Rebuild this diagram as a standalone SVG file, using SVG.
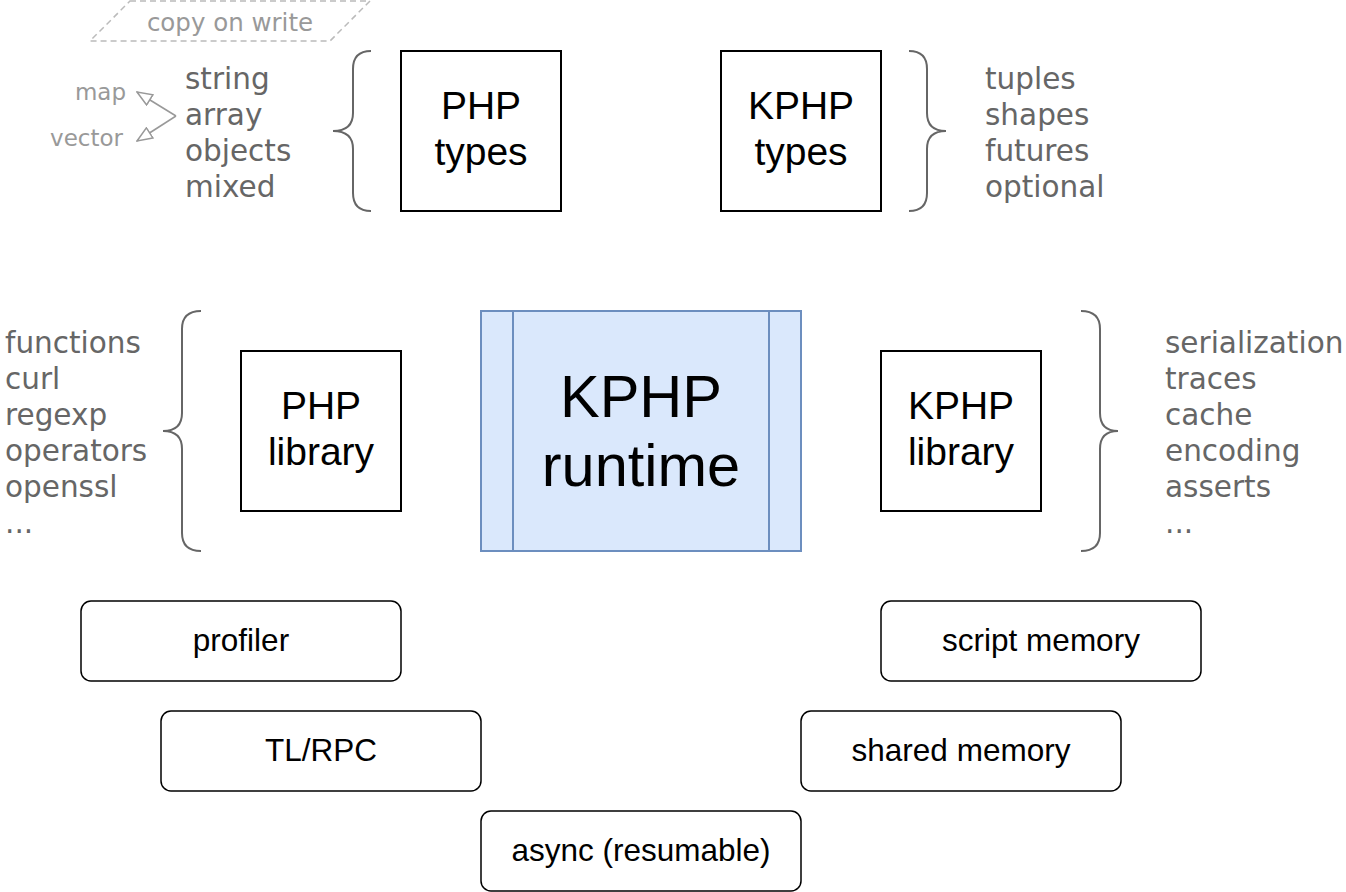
<svg xmlns="http://www.w3.org/2000/svg" width="1346" height="892" viewBox="0 0 1346 892">
<defs>
<style>
.box{fill:#fff;stroke:#000;stroke-width:2}
.rbox{fill:#fff;stroke:#000;stroke-width:1.5}
.t{font-family:"Liberation Sans",Arial,sans-serif;fill:#000;text-anchor:middle}
.g{font-family:"DejaVu Sans",Verdana,sans-serif;fill:#666;font-size:29.5px}
.brace{fill:none;stroke:#666;stroke-width:2}
.lt{font-family:"DejaVu Sans",Verdana,sans-serif;fill:#999}
</style>
<marker id="open" viewBox="0 0 17 14" refX="16" refY="7" markerWidth="17" markerHeight="14" markerUnits="userSpaceOnUse" orient="auto">
<path d="M1,1 L16,7 L1,13 Z" fill="#fff" stroke="#999" stroke-width="1.5"/>
</marker>
</defs>
<rect width="1346" height="892" fill="#fff"/>

<g id="cow">
<path d="M130,1 L370,1 L330,41 L90,41 Z" fill="none" stroke="#bbb" stroke-width="1.5" stroke-dasharray="6,4"/>
<text class="lt" x="230" y="31" font-size="24.5" text-anchor="middle">copy on write</text>
</g>

<g id="connectors">
<path d="M176,116 L137,92" fill="none" stroke="#999" stroke-width="1.5" marker-end="url(#open)"/>
<path d="M176,116 L137,141" fill="none" stroke="#999" stroke-width="1.5" marker-end="url(#open)"/>
</g>

<g id="map-label"><text class="lt" x="126" y="100" font-size="23" text-anchor="end">map</text></g>
<g id="vector-label"><text class="lt" x="123" y="146" font-size="23" text-anchor="end">vector</text></g>

<g id="php-types-list">
<text class="g" x="185" y="89">string</text>
<text class="g" x="185" y="125">array</text>
<text class="g" x="185" y="161">objects</text>
<text class="g" x="185" y="197">mixed</text>
<path class="brace" d="M371,51 Q353,51 353,69 L353,113 Q353,131 333,131 Q353,131 353,149 L353,193 Q353,211 371,211"/>
</g>

<g id="php-types">
<rect class="box" x="401" y="51" width="160" height="160"/>
<text class="t" x="481" y="119" font-size="39">PHP</text>
<text class="t" x="481" y="165" font-size="39">types</text>
</g>

<g id="kphp-types">
<rect class="box" x="721" y="51" width="160" height="160"/>
<text class="t" x="801" y="119" font-size="39">KPHP</text>
<text class="t" x="801" y="165" font-size="39">types</text>
</g>

<g id="kphp-types-list">
<path class="brace" d="M909,51 Q927,51 927,69 L927,113 Q927,131 946,131 Q927,131 927,149 L927,193 Q927,211 909,211"/>
<text class="g" x="985" y="89">tuples</text>
<text class="g" x="985" y="125">shapes</text>
<text class="g" x="985" y="161">futures</text>
<text class="g" x="985" y="197">optional</text>
</g>

<g id="php-library-list">
<text class="g" x="5" y="353">functions</text>
<text class="g" x="5" y="389">curl</text>
<text class="g" x="5" y="425">regexp</text>
<text class="g" x="5" y="461">operators</text>
<text class="g" x="5" y="497">openssl</text>
<text class="g" x="5" y="533">...</text>
<path class="brace" d="M201,311 Q182,311 182,329 L182,413 Q182,431 163,431 Q182,431 182,449 L182,533 Q182,551 201,551"/>
</g>

<g id="php-library">
<rect class="box" x="241" y="351" width="160" height="160"/>
<text class="t" x="321" y="419" font-size="39">PHP</text>
<text class="t" x="321" y="465" font-size="39">library</text>
</g>

<g id="kphp-runtime">
<rect x="481" y="311" width="320" height="240" fill="#dae8fc" stroke="#6c8ebf" stroke-width="2"/>
<line x1="513" y1="311" x2="513" y2="551" stroke="#6c8ebf" stroke-width="2"/>
<line x1="769" y1="311" x2="769" y2="551" stroke="#6c8ebf" stroke-width="2"/>
<text class="t" x="641" y="417" font-size="59.5">KPHP</text>
<text class="t" x="641" y="486" font-size="59.5">runtime</text>
</g>

<g id="kphp-library">
<rect class="box" x="881" y="351" width="160" height="160"/>
<text class="t" x="961" y="419" font-size="39">KPHP</text>
<text class="t" x="961" y="465" font-size="39">library</text>
</g>

<g id="kphp-library-list">
<path class="brace" d="M1081,311 Q1100,311 1100,329 L1100,413 Q1100,431 1118,431 Q1100,431 1100,449 L1100,533 Q1100,551 1081,551"/>
<text class="g" x="1165" y="353">serialization</text>
<text class="g" x="1165" y="389">traces</text>
<text class="g" x="1165" y="425">cache</text>
<text class="g" x="1165" y="461">encoding</text>
<text class="g" x="1165" y="497">asserts</text>
<text class="g" x="1165" y="533">...</text>
</g>

<g id="profiler">
<rect class="rbox" x="81" y="601" width="320" height="80" rx="10"/>
<text class="t" x="241" y="651" font-size="31.5">profiler</text>
</g>
<g id="tl-rpc">
<rect class="rbox" x="161" y="711" width="320" height="80" rx="10"/>
<text class="t" x="321" y="761" font-size="31.5">TL/RPC</text>
</g>
<g id="async">
<rect class="rbox" x="481" y="811" width="320" height="80" rx="10"/>
<text class="t" x="641" y="861" font-size="31.5">async (resumable)</text>
</g>
<g id="script-memory">
<rect class="rbox" x="881" y="601" width="320" height="80" rx="10"/>
<text class="t" x="1041" y="651" font-size="31.5">script memory</text>
</g>
<g id="shared-memory">
<rect class="rbox" x="801" y="711" width="320" height="80" rx="10"/>
<text class="t" x="961" y="761" font-size="31.5">shared memory</text>
</g>
</svg>
